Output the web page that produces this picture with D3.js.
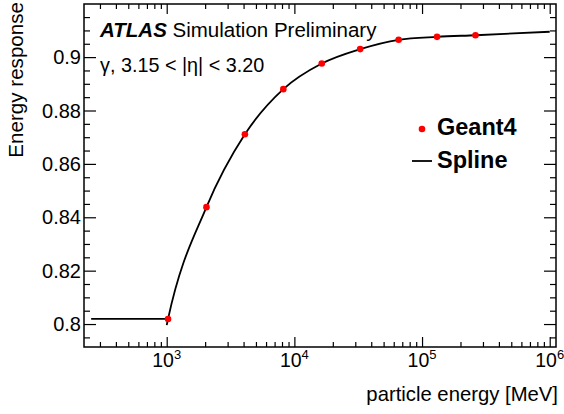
<!DOCTYPE html>
<html>
<head>
<meta charset="utf-8">
<script src="https://cdn.jsdelivr.net/npm/d3@7"></script>
<style>
  html, body { margin: 0; padding: 0; background: #fff; }
  svg { display: block; font-family: "Liberation Sans", Arial, Helvetica, sans-serif; }
</style>
</head>
<body>
<svg id="chart" width="564" height="414"></svg>
<script>
// Geant4 simulated response at each particle energy (MeV)
const geantEnergy = [1024, 2048, 4096, 8192, 16384, 32768, 65536, 131072, 262144];
const geantResponse = [0.8019, 0.8438, 0.8711, 0.8880, 0.8976, 0.9030, 0.9065, 0.9076, 0.9082];

// Spline knots: constant plateau below the first point, then the fitted curve
const plateauEnergy = [256, 1024];
const plateauResponse = [0.8019, 0.8019];
const splineEnergy = [1000, 1024, 2048, 4096, 8192, 16384, 32768, 65536, 131072, 262144, 1000000];
const splineResponse = [0.7996, 0.8019, 0.8438, 0.8711, 0.8880, 0.8976, 0.9030, 0.9065, 0.9076, 0.9082, 0.9095];

// Axis ticks
const xMajorTicks = [1e3, 1e4, 1e5, 1e6];
const xExponents = ["3", "4", "5", "6"];
const yMajorTicks = [0.80, 0.82, 0.84, 0.86, 0.88, 0.90];
const yTickLabels = ["0.8", "0.82", "0.84", "0.86", "0.88", "0.9"];

const svg = d3.select("#chart");
const frameL = 84, frameR = 556, frameT = 4, frameB = 347;
const fontSize = 20;

const x = d3.scaleLog().domain([225, 1.12e6]).range([frameL, frameR]);
const y = d3.scaleLinear().domain([0.7914, 0.9199]).range([frameB, frameT]);

function label(parent, px, py, opts) {
  const o = Object.assign({ anchor: "start", size: fontSize, rotate: 0 }, opts);
  return parent.append("text")
    .attr("transform", `translate(${px},${py}) rotate(${o.rotate})`)
    .attr("text-anchor", o.anchor)
    .attr("font-size", o.size)
    .attr("fill", "#000");
}

// minor ticks: 2..9 in every decade within the domain
const xMinorTicks = [];
for (let p = 2; p <= 6; p++) {
  for (let m = 2; m <= 9; m++) {
    const v = m * Math.pow(10, p);
    if (v >= x.domain()[0] && v <= x.domain()[1]) xMinorTicks.push(v);
  }
}
const yMinorTicks = d3.range(0.795, 0.92, 0.005).map(v => +v.toFixed(3))
  .filter(v => !yMajorTicks.some(t => Math.abs(t - v) < 1e-6));

function styleAxis(g) {
  g.select(".domain").remove();
  g.selectAll(".tick line").attr("stroke", "#000").attr("stroke-width", 1.2);
}

// bottom axis: inward ticks, power-of-ten labels
const gBottom = svg.append("g").attr("transform", `translate(0,${frameB})`);
gBottom.call(d3.axisBottom(x).tickValues(xMajorTicks).tickSize(-10).tickFormat("")).call(styleAxis);
gBottom.append("g").call(d3.axisBottom(x).tickValues(xMinorTicks).tickSize(-5).tickFormat("")).call(styleAxis);
gBottom.selectAll(".tick text").remove();
xMajorTicks.forEach((v, i) => {
  const t = label(gBottom, x(v), 19.5, { anchor: "middle", size: 19.5 });
  t.append("tspan").text("10");
  t.append("tspan").attr("dy", -8).attr("font-size", 13).text(xExponents[i]);
});

// top axis: ticks only
const gTop = svg.append("g").attr("transform", `translate(0,${frameT})`);
gTop.call(d3.axisTop(x).tickValues(xMajorTicks).tickSize(-10).tickFormat("")).call(styleAxis);
gTop.append("g").call(d3.axisTop(x).tickValues(xMinorTicks).tickSize(-5).tickFormat("")).call(styleAxis);

// left axis: ticks plus value labels
const gLeft = svg.append("g").attr("transform", `translate(${frameL},0)`);
gLeft.call(d3.axisLeft(y).tickValues(yMajorTicks).tickSize(-12).tickFormat("")).call(styleAxis);
gLeft.append("g").call(d3.axisLeft(y).tickValues(yMinorTicks).tickSize(-6).tickFormat("")).call(styleAxis);
yMajorTicks.forEach((v, i) => {
  label(gLeft, -3, y(v) + 7, { anchor: "end" }).text(yTickLabels[i]);
});

// right axis: ticks only
const gRight = svg.append("g").attr("transform", `translate(${frameR},0)`);
gRight.call(d3.axisRight(y).tickValues(yMajorTicks).tickSize(-12).tickFormat("")).call(styleAxis);
gRight.append("g").call(d3.axisRight(y).tickValues(yMinorTicks).tickSize(-6).tickFormat("")).call(styleAxis);

// frame
svg.append("rect")
  .attr("x", frameL).attr("y", frameT).attr("width", frameR - frameL).attr("height", frameB - frameT)
  .attr("fill", "none").attr("stroke", "#000").attr("stroke-width", 1.5);

// spline
const line = d3.line().x(d => x(d[0])).y(d => y(d[1]));
svg.append("path")
  .datum(d3.zip(plateauEnergy, plateauResponse))
  .attr("d", line).attr("fill", "none").attr("stroke", "#000").attr("stroke-width", 1.8);
svg.append("path")
  .datum(d3.zip(splineEnergy, splineResponse))
  .attr("d", line.curve(d3.curveMonotoneX)).attr("fill", "none")
  .attr("stroke", "#000").attr("stroke-width", 1.8);

// Geant4 points
svg.append("g").selectAll("circle")
  .data(d3.zip(geantEnergy, geantResponse))
  .join("circle")
  .attr("cx", d => x(d[0])).attr("cy", d => y(d[1])).attr("r", 3.3)
  .attr("fill", "#ff0000");

// labels
const title = label(svg, 100, 37, { size: 20.5 });
title.append("tspan").attr("font-weight", "bold").attr("font-style", "italic").text("ATLAS");
title.append("tspan").text(" Simulation Preliminary");

label(svg, 100, 72, { size: 19.8 }).text("γ, 3.15 < |η| < 3.20");

// legend
svg.append("circle").attr("cx", 422).attr("cy", 129).attr("r", 3.3).attr("fill", "#ff0000");
svg.append("text").attr("x", 437).attr("y", 135).attr("font-size", 23.5).attr("font-weight", "bold")
  .attr("fill", "#000").text("Geant4");
svg.append("line").attr("x1", 412).attr("x2", 432).attr("y1", 161).attr("y2", 161)
  .attr("stroke", "#000").attr("stroke-width", 1.8);
svg.append("text").attr("x", 437).attr("y", 167.5).attr("font-size", 23.5).attr("font-weight", "bold")
  .attr("fill", "#000").text("Spline");

// axis titles
label(svg, 558, 401, { anchor: "end", size: 20.3 }).text("particle energy [MeV]");
label(svg, 23, 2, { anchor: "end", rotate: -90, size: 20.6 }).text("Energy response");
</script>
</body>
</html>
